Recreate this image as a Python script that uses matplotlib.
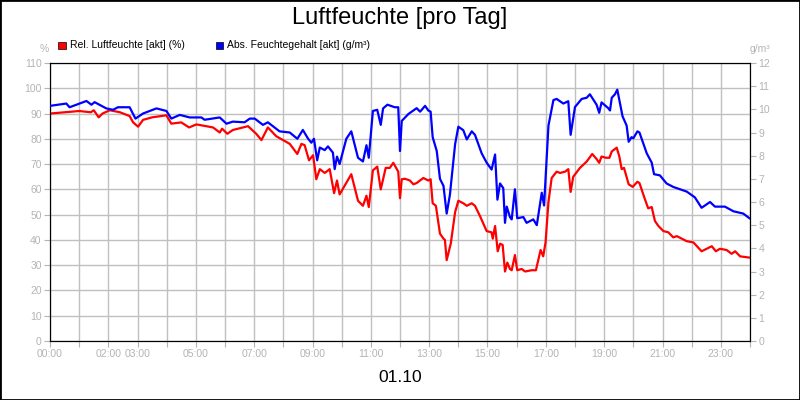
import matplotlib
matplotlib.use("Agg")
import matplotlib.pyplot as plt
from matplotlib.patches import Rectangle
plt.rcParams['font.family'] = ['Liberation Sans', 'DejaVu Sans']

rel_t = [0,0.5,1.0,1.4,1.5,1.67,1.8,2.05,2.4,2.73,2.85,3.02,3.19,3.5,3.99,4.16,4.5,4.77,5.02,5.59,5.82,5.9,6.08,6.27,6.79,7.07,7.25,7.47,7.76,8.22,8.48,8.62,8.73,8.88,9.02,9.13,9.25,9.42,9.59,9.74,9.84,9.93,10.33,10.56,10.73,10.85,10.93,11.07,11.22,11.34,11.51,11.65,11.77,11.94,12.0,
         12.06,12.17,12.34,12.46,12.57,12.8,12.97,13.05,13.12,13.23,13.37,13.49,13.54,13.6,13.74,13.89,14.0,14.17,14.29,14.46,14.57,14.74,14.97,15.14,15.18,15.26,15.35,15.43,15.52,15.6,15.68,15.77,15.83,15.94,16.02,16.17,16.29,16.51,16.66,16.82,16.91,16.99,17.09,17.2,17.37,17.49,17.66,17.77,17.85,17.94,18.17,18.4,18.59,18.74,18.83,18.91,19.06,19.18,19.26,19.43,19.52,19.6,19.68,19.84,19.98,20.14,20.21,20.4,20.51,20.63,20.74,20.86,21.03,21.2,21.37,21.49,21.66,21.83,22.06,22.34,22.69,22.83,22.97,23.2,23.37,23.49,23.66,23.98]
rel_v = [90,90.5,91,90.5,91.3,88.5,90,91.3,90.5,89,86.5,84.8,87.5,88.5,89.3,86,86.5,84.5,85.7,84.5,82.5,84,82,83.5,85,82,79.5,84.5,81,78,74,78,77.5,71.5,73.5,64,68,66.5,68,58.5,63.5,58,66,55.5,53.5,57.5,53,67.5,69,60,68.5,68.5,70.5,67,56.5,
         64,64.2,63.5,62,62.5,64.5,63.5,64,54.5,53.5,42.5,40.5,40,32,38.5,51,55.5,54.5,53.5,54.5,53.5,49.5,43.5,43,40.5,45.5,35.5,38.5,38,27.5,31,28.5,28,34,28,28.5,27.5,28,28,36,33.5,39,55,64.5,67,66.5,67,68,59,65,68.5,71,74,72,70.5,73,72.5,72.5,75,76.5,73,68,68.5,62,61,63,62.5,56,52.5,53,47.5,45.5,43.5,43,41,41.5,40.5,39.5,39,35.5,37.5,35.5,36.5,36,34.5,35.5,33.5,33]

abs_t = [0,0.56,0.67,1.25,1.42,1.53,1.93,2.16,2.33,2.73,2.93,3.19,3.65,3.99,4.16,4.45,4.79,5.19,5.3,5.82,6.05,6.27,6.67,6.85,7.02,7.3,7.47,7.87,8.22,8.48,8.67,8.85,8.96,9.05,9.16,9.25,9.42,9.53,9.7,9.76,9.84,9.93,10.16,10.33,10.56,10.73,10.85,10.93,11.07,11.22,11.34,11.42,11.57,11.82,11.94,12.0,
         12.06,12.29,12.4,12.57,12.69,12.86,12.97,13.05,13.12,13.26,13.37,13.49,13.6,13.71,13.89,14.0,14.17,14.29,14.46,14.57,14.8,14.97,15.14,15.26,15.34,15.43,15.54,15.6,15.66,15.77,15.83,15.94,16.02,16.23,16.34,16.57,16.69,16.86,16.94,17.09,17.26,17.37,17.6,17.77,17.85,18.0,18.23,18.4,18.51,18.74,18.83,18.91,19.14,19.2,19.26,19.37,19.45,19.63,19.77,19.84,19.94,20.0,20.14,20.21,20.46,20.63,20.71,20.91,21.14,21.37,21.83,22.11,22.34,22.63,22.8,23.14,23.43,23.77,23.98]
abs_v = [10.15,10.25,10.09,10.36,10.2,10.31,10.04,9.98,10.09,10.09,9.6,9.82,10.04,9.93,9.6,9.76,9.65,9.65,9.55,9.65,9.38,9.47,9.44,9.6,9.6,9.33,9.44,9.05,9.0,8.73,9.11,8.73,8.56,8.73,7.8,8.35,8.24,8.4,8.13,7.42,7.96,7.64,8.73,9.05,7.91,7.75,8.45,7.91,9.93,9.98,9.33,10.04,10.2,10.09,10.09,8.2,
         9.5,9.8,9.9,10.05,9.9,10.15,9.95,9.9,8.8,8.2,7.0,6.7,5.5,6.3,8.5,9.25,9.1,8.7,9.05,8.9,8.1,7.7,7.4,8.05,6.1,6.8,6.6,5.1,5.8,5.35,5.25,6.55,5.3,5.35,5.1,5.25,5.0,6.4,5.85,9.3,10.4,10.45,10.25,10.35,8.9,10.1,10.45,10.5,10.65,10.2,9.85,10.3,10.05,9.95,10.5,10.65,10.85,9.7,9.3,8.6,8.8,8.75,9.05,9.0,8.1,7.7,7.2,7.15,6.8,6.65,6.45,6.2,5.75,6.0,5.8,5.8,5.6,5.5,5.3]

tick_hours = [0,2,3,5,7,9,11,13,15,17,19,21,23]
tick_labels = ["00:00","02:00","03:00","05:00","07:00","09:00","11:00","13:00","15:00","17:00","19:00","21:00","23:00"]

gray = "#b4b4b4"
fig = plt.figure(figsize=(8,4), dpi=100)
fig.patches.append(Rectangle((0,0),1,1,transform=fig.transFigure,fill=False,edgecolor="black",linewidth=2))
ax = fig.add_axes([0.0625,0.1475,0.875,0.695])
ax.set_xlim(0,24); ax.set_ylim(0,110)
ax.set_xticks(range(25))
ax.set_xticklabels([tick_labels[tick_hours.index(h)] if h in tick_hours else "" for h in range(25)])
ax.set_yticks(range(0,111,10))
ax.grid(True, color="#c0c0c0", linewidth=1)
ax.tick_params(colors=gray, labelsize=7.5, length=4, pad=2)
ax.plot(rel_t, rel_v, color="#ff0000", linewidth=1.6, zorder=3)
ax2 = ax.twinx()
ax2.set_ylim(0,12); ax2.set_yticks(range(13))
ax2.tick_params(colors=gray, labelsize=7.5, length=4, pad=2)
ax2.plot(abs_t, abs_v, color="#0000ff", linewidth=1.6, zorder=3)
for a in (ax, ax2):
    for s in a.spines.values():
        s.set_color("black")
fig.text(0.5, 0.955, "Luftfeuchte [pro Tag]", ha="center", va="center", fontsize=17)
fig.text(0.5, 0.055, "01.10", ha="center", va="center", fontsize=12.5)
fig.text(0.055, 0.878, "%", ha="center", va="center", fontsize=7.5, color=gray)
fig.text(0.95, 0.878, "g/m³", ha="center", va="center", fontsize=7.5, color=gray)
fig.patches.append(Rectangle((0.073,0.878),0.009,0.018,transform=fig.transFigure,facecolor="#ff0000",edgecolor="black",linewidth=0.5))
fig.text(0.087, 0.888, "Rel. Luftfeuchte [akt] (%)", va="center", fontsize=7.5)
fig.patches.append(Rectangle((0.27,0.878),0.009,0.018,transform=fig.transFigure,facecolor="#0000ff",edgecolor="black",linewidth=0.5))
fig.text(0.284, 0.888, "Abs. Feuchtegehalt [akt] (g/m³)", va="center", fontsize=7.5)
fig.savefig("out.png", dpi=100)
